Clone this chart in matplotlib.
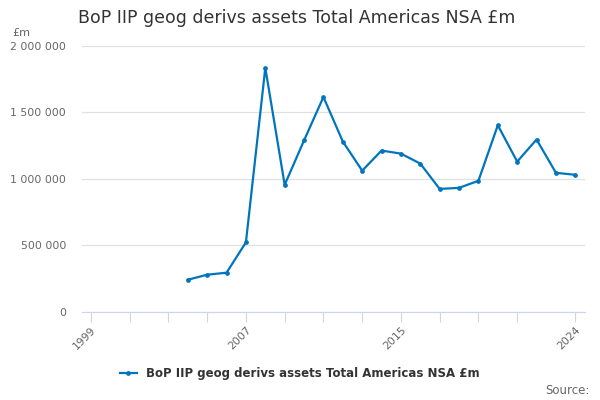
import numpy as np
import matplotlib
matplotlib.use("Agg")
import matplotlib.pyplot as plt
from matplotlib.ticker import FuncFormatter

plt.rcParams['font.family'] = ['DejaVu Sans']

# data (£m)
years = [2004, 2005, 2006, 2007, 2008, 2009, 2010, 2011, 2012, 2013, 2014,
         2015, 2016, 2017, 2018, 2019, 2020, 2021, 2022, 2023, 2024]
values = [242000, 280000, 295000, 523000, 1833000, 955000, 1288000, 1614000,
          1280000, 1061000, 1212000, 1189000, 1114000, 924000, 932000, 985000,
          1402000, 1129000, 1295000, 1045000, 1030000]
tick_years = list(range(1999, 2022, 2)) + [2024]
label_years = [1999, 2007, 2015, 2024]
series_name = "BoP IIP geog derivs assets Total Americas NSA £m"

line_col = "#0075bd"

fig = plt.figure(figsize=(6, 4), dpi=100)
ax = fig.add_axes([0.137, 0.22, 0.838, 0.666])

ax.plot(years, values, color=line_col, linewidth=1.6, marker='o', markersize=2.4,
        label=series_name)

ax.set_xlim(1998.55, 2024.5)
ax.set_ylim(0, 2000000)
ax.set_yticks([0, 500000, 1000000, 1500000, 2000000])
ax.yaxis.set_major_formatter(FuncFormatter(lambda v, p: "{:,}".format(int(v)).replace(",", " ")))
ax.set_xticks(tick_years)
ax.set_xticklabels([str(y) if y in label_years else "" for y in tick_years],
                   rotation=45, ha='right', rotation_mode='anchor')

ax.grid(axis='y', color='#e0e0e0', linewidth=0.9)
ax.set_axisbelow(True)
for s in ['top', 'right', 'left']:
    ax.spines[s].set_visible(False)
ax.spines['bottom'].set_color('#ccd6eb')
ax.tick_params(axis='y', length=0, labelsize=7.8, labelcolor='#666666', pad=11.5)
ax.tick_params(axis='x', length=7, color='#ccd6eb', labelsize=7.8, labelcolor='#666666', pad=2)

fig.text(0.13, 0.955, "BoP IIP geog derivs assets Total Americas NSA £m",
         fontsize=12.5, color='#333333', va='center', ha='left')
fig.text(0.02, 0.918, "£m", fontsize=8, color='#666666', va='center')

leg = fig.legend(loc='center', bbox_to_anchor=(0.5, 0.067), frameon=False,
                 handlelength=1.4, prop={'weight': 'bold', 'size': 8.5})
for t in leg.get_texts():
    t.set_color('#333333')
fig.text(0.982, 0.025, "Source:", fontsize=8.5, color='#666666', ha='right', va='center')

fig.savefig("out.png", dpi=100)
